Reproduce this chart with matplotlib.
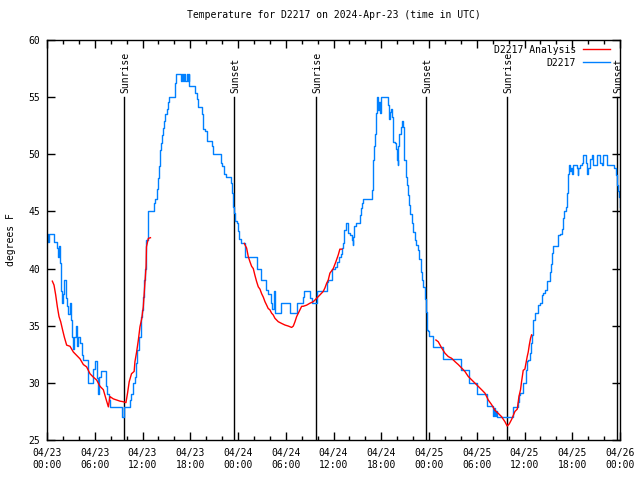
import numpy as np
import matplotlib
matplotlib.use("Agg")
import matplotlib.pyplot as plt

# hours since 2024-04-23 00:00 UTC
obs_hours = [0.0, 0.17, 0.3, 0.88, 1.21, 1.34, 1.55, 1.68, 1.76, 1.84, 1.97, 2.09, 2.18, 2.34,
             2.55, 2.68, 2.89, 3.02, 3.1, 3.22, 3.39, 3.64, 3.77, 3.94, 4.15, 4.36, 4.48, 5.11,
             5.19, 5.82, 5.99, 6.24, 6.45, 6.57, 6.74, 7.41, 7.58, 7.79, 7.91, 9.46, 9.67, 10.4,
             10.6, 10.8, 11.05, 11.18, 11.35, 11.56, 11.77, 11.98, 12.1, 12.2, 12.3, 12.5, 12.65,
             12.73, 13.44, 13.57, 13.78, 13.86, 13.99, 14.07, 14.2, 14.28, 14.4, 14.53, 14.7,
             14.82, 15.03, 15.24, 15.37, 16.08, 16.2, 16.8, 16.95, 17.1, 17.25, 17.4, 17.55,
             17.7, 17.8, 17.88, 18.6, 18.8, 19.0, 19.5, 19.64, 19.85, 20.06, 20.69, 20.9, 21.86,
             22.03, 22.28, 22.45, 23.12, 23.2, 23.33, 23.49, 23.62, 23.83, 24.04, 24.16, 24.37,
             24.9, 26.34, 26.88, 27.51, 27.8, 28.1, 28.3, 28.5, 28.6, 29.35, 30.53, 31.37, 32.12,
             32.29, 33.04, 33.25, 33.88, 35.13, 35.26, 35.84, 36.18, 36.39, 36.68, 36.89, 37.02,
             37.23, 37.35, 37.52, 37.86, 38.07, 38.27, 38.4, 38.48, 38.61, 38.78, 39.32, 39.45,
             39.62, 39.74, 40.87, 40.91, 41.0, 41.12, 41.2, 41.29, 41.42, 41.5, 41.62, 41.71,
             41.83, 41.96, 42.88, 43.0, 43.09, 43.22, 43.3, 43.43, 43.51, 43.72, 43.84, 43.93,
             44.06, 44.14, 44.26, 44.43, 44.64, 44.76, 44.89, 45.06, 45.19, 45.31, 45.48, 45.6,
             45.81, 46.02, 46.23, 46.36, 46.65, 46.78, 46.94, 47.07, 47.28, 47.49, 47.61, 47.78,
             47.9, 48.03, 48.45, 48.53, 49.71, 52.01, 53.06, 54.06, 55.31, 55.99, 56.16, 56.28,
             56.41, 56.57, 58.5, 59.13, 59.3, 59.42, 59.76, 60.14, 60.26, 60.47, 60.68, 60.8,
             60.89, 61.02, 61.09, 61.31, 61.72, 61.93, 62.14, 62.35, 62.56, 62.78, 63.19, 63.32,
             63.48, 63.61, 64.24, 64.45, 64.66, 64.78, 64.99, 65.16, 65.29, 65.41, 65.49, 65.58,
             65.7, 65.83, 65.91, 66.04, 66.54, 66.67, 66.75, 66.96, 67.17, 67.3, 67.71, 67.88,
             68.0, 68.22, 68.43, 68.55, 68.63, 69.05, 69.47, 69.68, 69.89, 70.31, 71.27, 71.44,
             71.57, 71.7, 71.82, 71.98]
obs_temp = [43.0, 42.3, 43.0, 42.3, 41.8, 41.0, 42.0, 40.5, 38.0, 37.0, 37.8, 38.5, 39.0, 37.4,
            36.7, 36.0, 37.0, 35.5, 34.0, 33.0, 34.0, 35.0, 33.2, 34.0, 33.5, 32.4, 32.0, 30.8,
            30.0, 31.2, 31.9, 30.4, 29.0, 30.5, 31.0, 29.7, 29.0, 28.5, 27.9, 27.0, 27.9, 28.5,
            29.0, 30.0, 30.5, 31.7, 32.9, 34.0, 35.8, 36.4, 37.5, 39.0, 40.0, 42.5, 43.5,
            45.0, 45.7, 46.1, 46.7, 47.0, 47.9, 49.0, 50.4, 51.0, 51.7, 52.3, 52.9,
            53.5, 54.0, 54.6, 55.0, 56.2, 57.0, 56.4, 57.0, 56.4, 57.0, 56.4, 57.0,
            56.4, 57.0, 56.0, 55.4, 54.8, 54.1, 53.5, 52.2, 52.0, 51.2, 50.7, 50.0, 49.2,
            49.0, 48.3, 48.0, 47.5, 46.6, 45.4, 44.9, 44.2, 44.0, 43.3, 42.6, 42.2,
            41.0, 40.0, 39.0, 38.1, 37.8, 37.0, 36.5, 38.0, 36.1, 37.0, 36.1, 37.0, 37.5,
            38.0, 37.4, 37.0, 38.0, 38.85, 39.0, 40.0, 40.1, 40.6, 41.0, 41.3, 41.8,
            42.2, 43.4, 44.0, 43.1, 42.9, 42.5, 42.1, 42.8, 43.7, 44.0, 44.7, 45.3,
            45.7, 46.1, 46.9, 48.2, 49.5, 50.7, 51.8, 53.6, 54.3, 55.0, 53.9, 54.6,
            53.6, 55.0, 54.3, 53.1, 53.7, 54.0, 53.3, 52.0, 51.1, 51.0, 50.5, 49.5,
            49.1, 50.7, 51.8, 52.4, 52.9, 52.4, 49.5, 48.0, 47.3, 46.4, 45.6, 44.8,
            44.0, 43.2, 42.5, 42.1, 41.6, 40.8, 39.7, 39.0, 38.4, 37.3, 36.2, 34.6,
            34.5, 34.1, 33.8, 33.1, 32.1, 31.1, 30.0, 29.0, 28.0, 27.1, 27.8, 27.1,
            27.5, 27.0, 27.9, 28.3, 28.9, 29.1, 30.0, 31.1, 31.9, 32.0, 32.6, 33.5,
            34.2, 35.1, 35.5, 36.1, 36.8, 37.0, 37.7, 37.9, 38.1, 38.9, 39.7, 40.4,
            41.4, 42.0, 42.9, 43.0, 43.5, 44.4, 45.0, 45.4, 46.6, 47.5, 48.3, 49.1,
            48.5, 48.8, 48.3, 49.1, 48.8, 48.2, 48.8, 49.1, 49.2, 49.9, 49.2, 48.3,
            48.8, 49.6, 49.9, 49.5, 49.1, 49.9, 49.2, 49.1, 49.9, 49.1, 48.8, 48.2,
            47.3, 46.8, 46.3, 45.4]

# analysis segments
ana1_hours = [0.67, 0.88, 1.09, 1.3, 1.51, 1.72, 1.97, 2.18, 2.47, 2.89, 3.31, 3.73, 4.15, 4.57,
              4.98, 5.4, 5.82, 6.24, 6.66, 7.08, 7.41, 7.71, 7.91, 8.33, 8.75, 9.17, 9.58, 9.92,
              10.12, 10.33, 10.62, 10.95, 11.05, 11.26, 11.47, 11.68, 11.9, 12.1, 12.3, 12.45,
              12.5, 12.73, 13.0]
ana1_temp = [38.9, 38.56, 37.7, 36.66, 35.8, 35.35, 34.6, 34.0, 33.3, 33.2, 32.7, 32.4, 32.1, 31.6,
             31.4, 30.8, 30.5, 30.25, 29.7, 29.4, 28.6, 27.9, 28.8, 28.6, 28.5, 28.4, 28.35, 28.27,
             29.1, 30.1, 30.8, 31.0, 31.85, 32.7, 33.7, 34.9, 35.6, 36.66, 38.7, 40.2,
             41.9, 42.64, 42.7]
ana2_hours = [24.79, 25.08, 25.29, 25.5, 25.71, 25.92, 26.13, 26.34, 26.55, 26.76, 26.97, 27.18,
              27.39, 27.6, 27.8, 28.0, 28.22, 28.43, 28.64, 29.06, 29.48, 29.9, 30.32, 30.74,
              30.95, 31.16, 31.37, 31.58, 31.79, 32.0, 32.2, 32.62, 33.04, 33.46, 33.88, 34.3,
              34.71, 34.92, 35.13, 35.34, 35.55, 35.97, 36.3, 36.6, 36.8, 37.05]
ana2_temp = [42.2, 41.8, 41.05, 40.6, 40.2, 40.0, 39.4, 38.86, 38.4, 38.2, 37.8, 37.5,
             37.1, 36.8, 36.5, 36.4, 36.1, 35.94, 35.65, 35.35, 35.2, 35.06, 34.97, 34.85,
             34.97, 35.35, 35.8, 36.1, 36.4, 36.7, 36.7, 36.8, 36.97, 37.1, 37.4, 37.7,
             38.0, 38.3, 38.7, 39.0, 39.6, 40.0, 40.6, 41.2, 41.7, 41.7]
ana3_hours = [48.87, 49.16, 49.58, 50.0, 50.42, 50.84, 51.26, 51.68, 52.1, 52.51, 52.93, 53.35,
              53.77, 54.19, 54.61, 55.03, 55.45, 55.86, 56.28, 56.7, 57.12, 57.54, 57.83, 58.08,
              58.38, 58.8, 59.09, 59.3, 59.5, 59.63, 59.84, 60.05, 60.18, 60.34, 60.47, 60.6,
              60.76, 60.89]
ana3_temp = [33.75, 33.6, 33.07, 32.6, 32.3, 32.15, 31.86, 31.6, 31.3, 31.0, 30.56, 30.27,
             29.98, 29.69, 29.4, 29.1, 28.5, 28.1, 27.6, 27.33, 27.04, 26.6, 26.22, 26.4,
             26.8, 27.5, 27.7, 28.8, 29.4, 30.1, 31.1, 31.2, 31.7, 32.3, 32.7, 33.3,
             33.9, 34.2]

sunrise_hours = [9.72, 33.8, 57.8]
sunset_hours = [23.55, 47.62, 71.66]

tick_hours = list(range(0, 73, 6))
tick_labels = ["04/23\n00:00", "04/23\n06:00", "04/23\n12:00", "04/23\n18:00",
               "04/24\n00:00", "04/24\n06:00", "04/24\n12:00", "04/24\n18:00",
               "04/25\n00:00", "04/25\n06:00", "04/25\n12:00", "04/25\n18:00",
               "04/26\n00:00"]

plt.rcParams['font.family'] = ['DejaVu Sans Mono']
plt.rcParams['font.size'] = 7

fig = plt.figure(figsize=(6.4, 4.8), dpi=100)
ax = fig.add_axes([47/640, 40/480, 573/640, 400/480])

for h in sunrise_hours:
    ax.plot([h, h], [25, 55], color='black', lw=1.0, zorder=1)
    ax.text(h + 0.15, 55.4, "Sunrise", rotation=90, ha='center', va='bottom', fontsize=7)
for h in sunset_hours:
    ax.plot([h, h], [25, 55], color='black', lw=1.0, zorder=1)
    ax.text(h + 0.15, 55.4, "Sunset", rotation=90, ha='center', va='bottom', fontsize=7)

ax.plot(ana1_hours, ana1_temp, color='#ff0000', lw=1.0, label='D2217 Analysis', zorder=3)
ax.plot(ana2_hours, ana2_temp, color='#ff0000', lw=1.0, zorder=3)
ax.plot(ana3_hours, ana3_temp, color='#ff0000', lw=1.0, zorder=3)
ax.plot(obs_hours, obs_temp, color='#0080ff', lw=1.0, drawstyle='steps-post',
        label='D2217', zorder=2)

ax.set_xlim(0, 72)
ax.set_ylim(25, 60)
ax.set_xticks(tick_hours)
ax.set_xticklabels(tick_labels)
ax.set_xticks(range(0, 73, 2), minor=True)
ax.set_yticks(range(25, 61, 5))
ax.tick_params(axis='both', which='major', direction='in', length=6, width=1,
               top=True, right=True)
ax.tick_params(axis='x', which='minor', direction='in', length=3, width=1, top=True)
ax.tick_params(axis='x', which='major', pad=6)
ax.tick_params(axis='y', which='major', pad=5)
for s in ax.spines.values():
    s.set_linewidth(1.0)

ax.set_ylabel("degrees F", labelpad=9)
ax.set_title("Temperature for D2217 on 2024-Apr-23 (time in UTC)", fontsize=7, pad=16)

ax.legend(loc='upper right', bbox_to_anchor=(0.991, 1.0), frameon=False, markerfirst=False,
          handlelength=2.8, handletextpad=0.7, borderaxespad=0.1, labelspacing=0.3, fontsize=7)

fig.savefig("out.png", dpi=100)
